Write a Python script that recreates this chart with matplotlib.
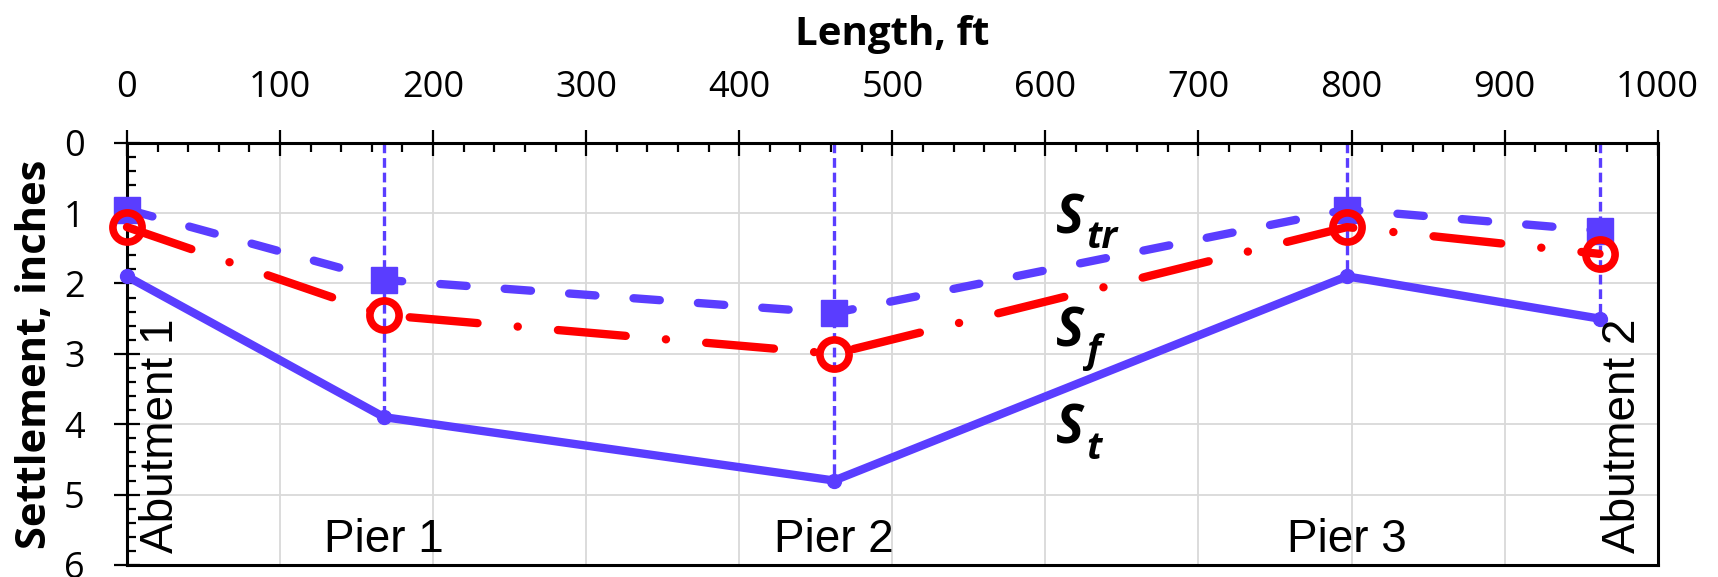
import matplotlib.pyplot as plt
from matplotlib.ticker import MultipleLocator

plt.rcParams['lines.scale_dashes'] = False

# bridge supports along the length (ft)
supports = ['Abutment 1', 'Pier 1', 'Pier 2', 'Pier 3', 'Abutment 2']
length_ft = [0, 168, 462, 797, 962]

# settlements (inches)
s_t = [1.9, 3.9, 4.8, 1.9, 2.5]
s_tr = [0.95, 1.95, 2.42, 0.95, 1.25]
s_f = [1.2, 2.45, 3.0, 1.2, 1.58]

blue = '#5a3dff'
red = '#ff0000'

fig = plt.figure(figsize=(17.18, 5.77), dpi=100)
ax = fig.add_axes([0.0739, 0.0208, 0.891, 0.732])

ax.set_xlim(0, 1000)
ax.set_ylim(6, 0)
ax.xaxis.tick_top()
ax.xaxis.set_label_position('top')
ax.xaxis.set_major_locator(MultipleLocator(100))
ax.xaxis.set_minor_locator(MultipleLocator(20))
ax.yaxis.set_major_locator(MultipleLocator(1))
ax.yaxis.set_minor_locator(MultipleLocator(0.2))
ax.grid(True, which='major', color='#d9d9d9', lw=1.3)
ax.set_axisbelow(True)

for sp in ax.spines.values():
    sp.set_linewidth(2.2)
    sp.set_color('black')

ax.tick_params(which='major', direction='inout', length=19, width=1.6,
               labelsize=26)
ax.tick_params(which='minor', direction='in', length=6.5, width=1.6)
ax.tick_params(axis='x', which='both', top=True, bottom=False, pad=17)
ax.tick_params(axis='y', which='both', left=True, right=False, pad=21)
for lab in ax.get_xticklabels() + ax.get_yticklabels():
    lab.set_fontfamily('Open Sans')

ax.set_xlabel('Length, ft', fontfamily='Open Sans', fontweight='bold',
              fontsize=29, labelpad=18)
ax.set_ylabel('Settlement, inches', fontfamily='Open Sans', fontweight='bold',
              fontsize=30, labelpad=6)

# vertical guides from top to the total settlement point
ax.vlines(length_ft[1:], 0, s_t[1:], colors=blue, linestyles=(0, (7, 3.5)),
          lw=2.4, zorder=2)

ax.plot(length_ft, s_t, color=blue, lw=6, marker='o', ms=10,
        solid_capstyle='round', zorder=3, clip_on=False)
ax.plot(length_ft, s_tr, color=blue, lw=6, ls=(0, (19, 27.5)),
        dash_capstyle='round', marker='s', ms=19, zorder=4, clip_on=False)
ax.plot(length_ft, s_f, color=red, lw=6, ls=(0, (49, 29, 0.1, 29)),
        dash_capstyle='round', marker='o', ms=21, mfc='none', mew=5.5,
        zorder=5, clip_on=False)

# series labels
for name, sub, yb in [('S', 'tr', 1.285), ('S', 'f', 2.9), ('S', 't', 4.28)]:
    ax.text(607, yb, name, fontfamily='Open Sans', fontweight='bold',
            fontstyle='italic', fontsize=38, ha='left', va='baseline')
    ax.annotate(sub, (607, yb), xytext=(21.5, -11), textcoords='offset points',
                fontfamily='Open Sans', fontweight='bold', fontstyle='italic',
                fontsize=27, ha='left', va='baseline')

# support labels
lab_font = dict(fontfamily='Liberation Sans', fontsize=33)
ax.text(8, 5.83, supports[0], rotation=90, ha='left', va='bottom', **lab_font)
ax.text(992, 5.83, supports[4], rotation=90, ha='right', va='bottom', **lab_font)
for name, xv in zip(supports[1:4], length_ft[1:4]):
    ax.text(xv, 5.81, name, ha='center', va='baseline', **lab_font)

fig.savefig('out.png', dpi=100)
